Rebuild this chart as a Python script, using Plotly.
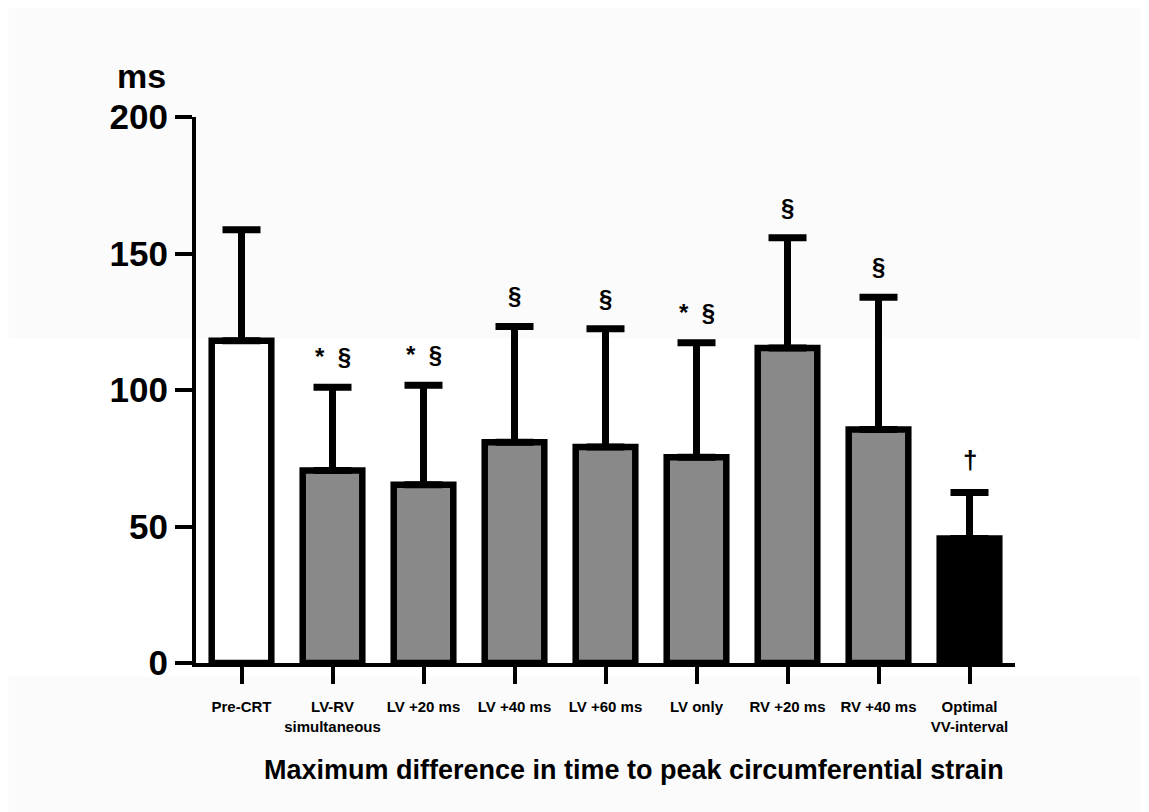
import plotly.graph_objects as go

# data (ms)
groups = ["Pre-CRT", "LV-RV<br>simultaneous", "LV +20 ms", "LV +40 ms", "LV +60 ms",
          "LV only", "RV +20 ms", "RV +40 ms", "Optimal<br>VV-interval"]
mean_ms = [118.0, 70.5, 65.3, 80.9, 79.1, 75.4, 115.4, 85.5, 45.6]
sd_ms = [40.7, 30.5, 36.4, 42.4, 43.3, 41.9, 40.4, 48.5, 16.9]
signif = ["", "*  §", "*  §", "§", "§", "*  §", "§", "§", "†"]
bar_colors = ["white"] + ["#898989"] * 7 + ["black"]

FONT = "Liberation Sans, Arial, sans-serif"

fig = go.Figure()
fig.add_trace(
    go.Bar(
        x=groups,
        y=mean_ms,
        width=0.655,
        marker=dict(color=bar_colors, line=dict(color="black", width=6.5)),
        error_y=dict(
            type="data",
            symmetric=False,
            array=sd_ms,
            arrayminus=[0] * len(sd_ms),
            color="black",
            thickness=7,
            width=19,
        ),
        showlegend=False,
    )
)

# significance marks above each error bar
for g, m, s, t in zip(groups, mean_ms, sd_ms, signif):
    if t:
        fig.add_annotation(
            x=g, y=m + s, text=t,
            showarrow=False, yanchor="bottom", yshift=15,
            font=dict(family=FONT, size=26 if t == "†" else 24, color="black", weight="bold"),
        )

# unit label and axis title
fig.add_annotation(
    x=-0.099, y=1.113, xref="paper", yref="paper", text="ms",
    showarrow=False, font=dict(family=FONT, size=34, color="black", weight="bold"),
)
fig.add_annotation(
    x=0.535, y=-0.228, xref="paper", yref="paper",
    text="Maximum difference in time to peak circumferential strain",
    showarrow=False, font=dict(family=FONT, size=27, color="black", weight="bold"),
)

# faint off-white bands of the scanned figure
for y0, y1 in [(0.594, 1.25), (-0.3, -0.025)]:
    fig.add_shape(type="rect", xref="paper", yref="paper", x0=-0.229, x1=1.2,
                  y0=y0, y1=y1, fillcolor="#fbfbfb", line=dict(width=0), layer="below")

fig.update_layout(
    width=1149,
    height=812,
    autosize=False,
    margin=dict(l=188, r=142, t=109, b=157),
    paper_bgcolor="white",
    plot_bgcolor="rgba(0,0,0,0)",
    font=dict(family=FONT, color="black"),
)
fig.update_xaxes(
    showline=True, linecolor="black", linewidth=4,
    ticks="outside", ticklen=17, tickwidth=4, tickcolor="black",
    tickfont=dict(family=FONT, size=15, color="black", weight="bold"),
    ticklabelstandoff=10,
    showgrid=False, zeroline=False, range=[-0.5, 8.5],
)
fig.update_yaxes(
    range=[0, 200], tickvals=[0, 50, 100, 150, 200],
    showline=True, linecolor="black", linewidth=4,
    ticks="outside", ticklen=17, tickwidth=4, tickcolor="black",
    tickfont=dict(family=FONT, size=35, color="black", weight="bold"),
    showgrid=False, zeroline=False,
)

fig.write_html("out.html")
